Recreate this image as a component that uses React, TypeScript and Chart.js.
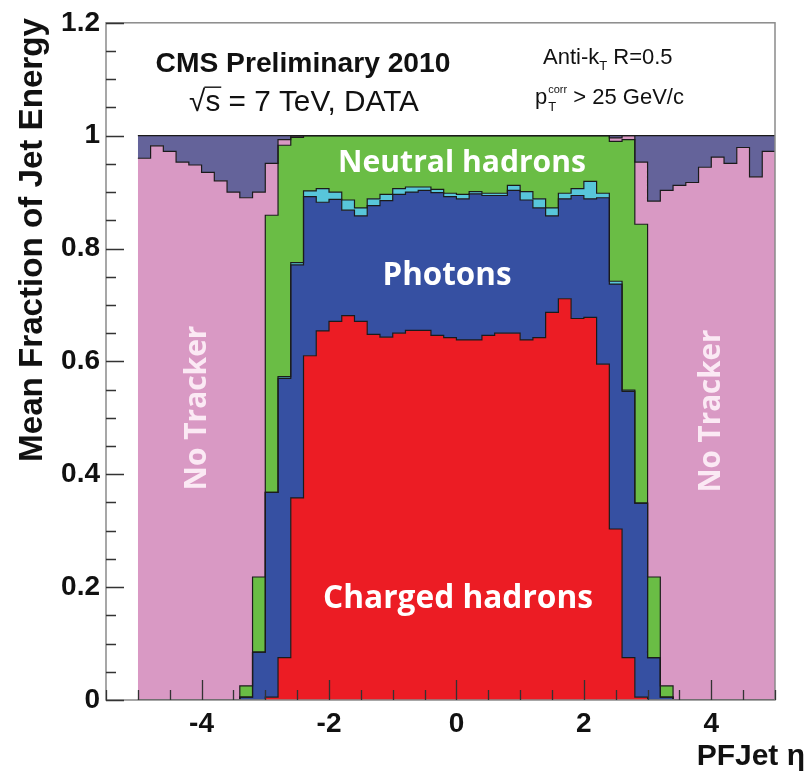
import React, { useEffect, useRef } from 'react';
import { Chart, registerables } from 'chart.js';

Chart.register(...registerables);

// PF jet eta bin edges (0.2 wide bins from -5 to 5)
const etaBinEdges = [
  -5.0, -4.8, -4.6, -4.4, -4.2, -4.0, -3.8, -3.6, -3.4, -3.2,
  -3.0, -2.8, -2.6, -2.4, -2.2, -2.0, -1.8, -1.6, -1.4, -1.2,
  -1.0, -0.8, -0.6, -0.4, -0.2, 0.0, 0.2, 0.4, 0.6, 0.8,
  1.0, 1.2, 1.4, 1.6, 1.8, 2.0, 2.2, 2.4, 2.6, 2.8,
  3.0, 3.2, 3.4, 3.6, 3.8, 4.0, 4.2, 4.4, 4.6, 4.8, 5.0,
];

// Mean energy fractions per bin (stacked bottom to top)
const chargedHadrons = [
  0, 0, 0, 0, 0, 0, 0, 0, 0, 0,
  0.005, 0.075, 0.358, 0.610, 0.654, 0.671, 0.681, 0.671, 0.648, 0.643,
  0.650, 0.655, 0.655, 0.646, 0.642, 0.638, 0.638, 0.646, 0.650, 0.650,
  0.638, 0.642, 0.687, 0.711, 0.676, 0.678, 0.595, 0.303, 0.075, 0.005,
  0, 0, 0, 0, 0, 0, 0, 0, 0, 0,
];
const photons = [
  0, 0, 0, 0, 0, 0, 0, 0, 0.005, 0.085,
  0.363, 0.495, 0.413, 0.282, 0.228, 0.216, 0.187, 0.187, 0.228, 0.242,
  0.246, 0.245, 0.248, 0.253, 0.250, 0.250, 0.259, 0.248, 0.244, 0.253,
  0.248, 0.230, 0.171, 0.177, 0.218, 0.210, 0.295, 0.434, 0.472, 0.344,
  0.075, 0.005, 0, 0, 0, 0, 0, 0, 0, 0,
];
const electrons = [
  0, 0, 0, 0, 0, 0, 0, 0, 0, 0,
  0, 0.003, 0.004, 0.010, 0.024, 0.013, 0.018, 0.014, 0.012, 0.011,
  0.010, 0.009, 0.006, 0.006, 0.006, 0.008, 0.004, 0.004, 0.004, 0.009,
  0.015, 0.016, 0.014, 0.010, 0.012, 0.031, 0.008, 0.005, 0.002, 0,
  0, 0, 0, 0, 0, 0, 0, 0, 0, 0,
];
const neutralHadrons = [
  0, 0, 0, 0, 0, 0, 0, 0, 0.020, 0.133,
  0.491, 0.410, 0.222, 0.098, 0.094, 0.100, 0.114, 0.128, 0.112, 0.104,
  0.094, 0.091, 0.091, 0.095, 0.102, 0.104, 0.099, 0.102, 0.102, 0.088,
  0.099, 0.112, 0.128, 0.102, 0.094, 0.081, 0.102, 0.248, 0.444, 0.494,
  0.143, 0.020, 0, 0, 0, 0, 0, 0, 0, 0,
];
const hfHadrons = [
  0.960, 0.982, 0.972, 0.953, 0.948, 0.935, 0.920, 0.900, 0.865, 0.682,
  0.092, 0.010, 0.002, 0, 0, 0, 0, 0, 0, 0,
  0, 0, 0, 0, 0, 0, 0, 0, 0, 0,
  0, 0, 0, 0, 0, 0, 0, 0.006, 0.007, 0.110,
  0.666, 0.878, 0.912, 0.917, 0.944, 0.962, 0.951, 0.979, 0.927, 0.972,
];
const hfEm = [
  0.040, 0.018, 0.028, 0.047, 0.052, 0.065, 0.080, 0.100, 0.110, 0.100,
  0.049, 0.007, 0.001, 0, 0, 0, 0, 0, 0, 0,
  0, 0, 0, 0, 0, 0, 0, 0, 0, 0,
  0, 0, 0, 0, 0, 0, 0, 0.004, 0, 0.047,
  0.116, 0.097, 0.088, 0.083, 0.056, 0.038, 0.049, 0.021, 0.073, 0.028,
];

const xTickValues = [-4, -2, 0, 2, 4];
const yTickValues = [0, 0.2, 0.4, 0.6, 0.8, 1, 1.2];

const layers = [
  { label: 'Charged hadrons', values: chargedHadrons, color: '#ec1c24' },
  { label: 'Photons', values: photons, color: '#3650a2' },
  { label: 'Electrons', values: electrons, color: '#58c6da' },
  { label: 'Neutral hadrons', values: neutralHadrons, color: '#6abd45' },
  { label: 'HF hadrons', values: hfHadrons, color: '#d999c4' },
  { label: 'HF EM', values: hfEm, color: '#64639a' },
];

const SANS = '"Liberation Sans", Arial, sans-serif';
const LABEL_FONT = '"Open Sans", "Liberation Sans", sans-serif';

function fittedSize(ctx: CanvasRenderingContext2D, text: string, weight: string, family: string, width: number) {
  ctx.font = `${weight} 100px ${family}`;
  return (100 * width) / ctx.measureText(text).width;
}

function drawFitted(
  ctx: CanvasRenderingContext2D, text: string, cx: number, y: number, width: number,
  weight: string, family: string, color: string, baseline: CanvasTextBaseline = 'alphabetic', rotate = 0,
) {
  const size = fittedSize(ctx, text, weight, family, width);
  ctx.save();
  ctx.translate(cx, y);
  if (rotate) ctx.rotate(rotate);
  ctx.font = `${weight} ${size}px ${family}`;
  ctx.fillStyle = color;
  ctx.textAlign = 'center';
  ctx.textBaseline = baseline;
  ctx.fillText(text, 0, 0);
  ctx.restore();
}

const rootStylePlugin = {
  id: 'rootStyle',
  afterDatasetsDraw(chart: any) {
    const ctx: CanvasRenderingContext2D = chart.ctx;
    const { left, right, top, bottom } = chart.chartArea;
    const xs = chart.scales.x;
    const ys = chart.scales.y;
    ctx.save();
    // frame
    ctx.strokeStyle = '#8a8a8a';
    ctx.lineWidth = 1.5;
    ctx.strokeRect(left, top, right - left, bottom - top);
    // ticks (inside)
    ctx.strokeStyle = '#333';
    ctx.lineWidth = 1.3;
    ctx.beginPath();
    for (let k = 0; k <= 24; k++) {
      const v = k * 0.05;
      const py = Math.round(ys.getPixelForValue(v)) + 0.5;
      const len = k % 4 === 0 ? 18 : 10;
      ctx.moveTo(left, py);
      ctx.lineTo(left + len, py);
    }
    for (let k = 0; k <= 21; k++) {
      const v = -5.5 + k * 0.5;
      const px = Math.round(xs.getPixelForValue(v)) + 0.5;
      const len = Math.abs(v % 2) < 1e-9 ? 20 : 10;
      ctx.moveTo(px, bottom);
      ctx.lineTo(px, bottom - len);
    }
    ctx.stroke();
    ctx.restore();
  },
  afterDraw(chart: any) {
    const ctx: CanvasRenderingContext2D = chart.ctx;
    ctx.save();
    // axis titles
    drawFitted(ctx, 'Mean Fraction of Jet Energy', 33, 240, 444, 'bold', SANS, '#111', 'middle', -Math.PI / 2);
    ctx.font = `bold 30px ${SANS}`;
    ctx.fillStyle = '#111';
    ctx.textAlign = 'right';
    ctx.textBaseline = 'alphabetic';
    ctx.fillText('PFJet η', 805, 765);

    // CMS label
    drawFitted(ctx, 'CMS Preliminary 2010', 303, 72, 295, 'bold', SANS, '#111');
    // sqrt(s) line
    {
      const text = '√s = 7 TeV, DATA';
      const size = fittedSize(ctx, text, 'normal', SANS, 230);
      ctx.font = `normal ${size}px ${SANS}`;
      ctx.textAlign = 'left';
      const w = ctx.measureText(text).width;
      const x0 = 304 - w / 2;
      const y0 = 111;
      ctx.fillText(text, x0, y0);
      const wr = ctx.measureText('√').width;
      const ws = ctx.measureText('√s').width;
      ctx.strokeStyle = '#111';
      ctx.lineWidth = 1.4;
      ctx.beginPath();
      ctx.moveTo(x0 + wr - 1, y0 - size * 0.8);
      ctx.lineTo(x0 + ws + 1, y0 - size * 0.8);
      ctx.stroke();
    }
    // Anti-kT
    {
      let x = 543;
      const y = 64;
      ctx.textAlign = 'left';
      ctx.font = `normal 22px ${SANS}`;
      ctx.fillText('Anti-k', x, y);
      x += ctx.measureText('Anti-k').width;
      ctx.font = `normal 13px ${SANS}`;
      ctx.fillText('T', x, y + 6);
      x += ctx.measureText('T').width;
      ctx.font = `normal 22px ${SANS}`;
      ctx.fillText(' R=0.5', x, y);
    }
    // pT corr
    {
      let x = 535;
      const y = 104;
      ctx.textAlign = 'left';
      ctx.font = `normal 22px ${SANS}`;
      ctx.fillText('p', x, y);
      x += ctx.measureText('p').width + 1;
      ctx.font = `normal 11px ${SANS}`;
      ctx.fillText('corr', x, y - 11);
      const wc = ctx.measureText('corr').width;
      ctx.font = `normal 13px ${SANS}`;
      ctx.fillText('T', x, y + 7);
      x += Math.max(wc, ctx.measureText('T').width);
      ctx.font = `normal 22px ${SANS}`;
      ctx.fillText(' > 25 GeV/c', x, y);
    }

    // in-plot labels
    drawFitted(ctx, 'Neutral hadrons', 462, 172, 248, 'bold', LABEL_FONT, '#ffffff');
    drawFitted(ctx, 'Photons', 447, 285, 129, 'bold', LABEL_FONT, '#ffffff');
    drawFitted(ctx, 'Charged hadrons', 458, 608, 270, 'bold', LABEL_FONT, '#ffffff');
    drawFitted(ctx, 'No Tracker', 197, 408, 165, 'bold', LABEL_FONT, '#fbe9f4', 'middle', -Math.PI / 2);
    drawFitted(ctx, 'No Tracker', 712, 411, 163, 'bold', LABEL_FONT, '#fbe9f4', 'middle', -Math.PI / 2);
    ctx.restore();
  },
};

export default function App() {
  const canvasRef = useRef<HTMLCanvasElement>(null);

  useEffect(() => {
    const canvas = canvasRef.current;
    if (!canvas) return;
    const chart = new Chart(canvas, {
      type: 'line',
      data: {
        datasets: layers.map((layer, k) => ({
          label: layer.label,
          data: etaBinEdges.map((x, i) => ({ x, y: layer.values[Math.min(i, layer.values.length - 1)] })),
          stepped: true,
          fill: k === 0 ? 'origin' : '-1',
          backgroundColor: layer.color,
          borderColor: '#1b1b1b',
          borderWidth: 1.2,
          pointRadius: 0,
          pointHoverRadius: 0,
        })),
      },
      options: {
        responsive: false,
        animation: false,
        devicePixelRatio: 1,
        events: [],
        layout: { padding: { top: 22, right: 34, left: 0, bottom: 0 } },
        plugins: {
          legend: { display: false },
          tooltip: { enabled: false },
          filler: { drawTime: 'beforeDatasetsDraw' },
        },
        scales: {
          x: {
            type: 'linear',
            min: -5.5,
            max: 5.0,
            grid: { display: false, drawTicks: false },
            border: { display: false },
            afterBuildTicks: (s: any) => { s.ticks = xTickValues.map((v) => ({ value: v })); },
            afterFit: (s: any) => { s.height = 73; },
            ticks: {
              font: { family: SANS, weight: 'bold', size: 28 },
              color: '#111',
              padding: 7,
              maxRotation: 0,
              autoSkip: false,
              callback: (v: any) => String(v),
            },
          },
          y: {
            type: 'linear',
            min: 0,
            max: 1.2,
            stacked: true,
            grid: { display: false, drawTicks: false },
            border: { display: false },
            afterBuildTicks: (s: any) => { s.ticks = yTickValues.map((v) => ({ value: v })); },
            afterFit: (s: any) => { s.width = 106; },
            ticks: {
              font: { family: SANS, weight: 'bold', size: 28 },
              color: '#111',
              padding: 6,
              autoSkip: false,
              callback: (v: any) => String(v),
            },
          },
        },
      } as any,
      plugins: [rootStylePlugin],
    });
    return () => chart.destroy();
  }, []);

  return (
    <div style={{ position: 'absolute', left: 0, top: 0, width: 809, height: 773, background: '#ffffff' }}>
      <canvas ref={canvasRef} width={809} height={773} style={{ display: 'block', width: 809, height: 773 }} />
    </div>
  );
}
